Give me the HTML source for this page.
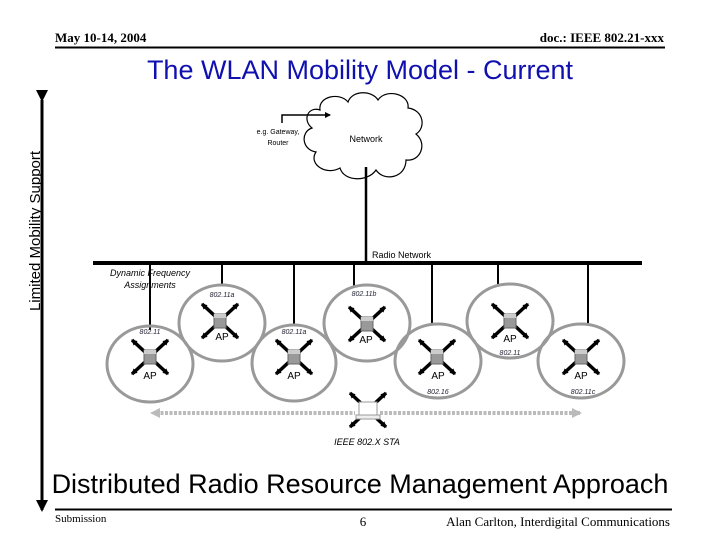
<!DOCTYPE html>
<html><head><meta charset="utf-8"><style>
body{margin:0;width:720px;height:540px;background:#fff;overflow:hidden}
svg text{font-family:"Liberation Sans",sans-serif}
</style></head><body>
<svg width="720" height="540" viewBox="0 0 720 540" xmlns="http://www.w3.org/2000/svg">
<defs>
<marker id="ah" markerWidth="6" markerHeight="6" refX="5" refY="3" orient="auto" markerUnits="userSpaceOnUse"><path d="M0,0L6,3L0,6z" fill="#000"/></marker>
<marker id="big" markerWidth="12" markerHeight="12" refX="10" refY="6" orient="auto" markerUnits="userSpaceOnUse"><path d="M0,0L12,6L0,12z" fill="#000"/></marker>
<marker id="ga" markerWidth="10" markerHeight="10" refX="8" refY="5" orient="auto" markerUnits="userSpaceOnUse"><path d="M0,0L10,5L0,10z" fill="#bbb"/></marker>
<g id="ap">
<g stroke="#000" stroke-width="3.5" marker-end="url(#ah)">
<line x1="-5" y1="-5" x2="-18" y2="-17"/><line x1="5" y1="-5" x2="18" y2="-17"/>
<line x1="-5" y1="5" x2="-18" y2="17"/><line x1="5" y1="5" x2="18" y2="17"/>
</g>
<rect x="-6" y="-7" width="12" height="14" fill="#999" stroke="#666"/>
<rect x="-6" y="-7" width="12" height="4" fill="#ccc"/>
</g>
</defs>

<text x="55" y="42" font-weight="bold" font-size="13" style="font-family:'Liberation Serif',serif">May 10-14, 2004</text>
<text x="664" y="42" text-anchor="end" font-weight="bold" font-size="13" style="font-family:'Liberation Serif',serif">doc.: IEEE 802.21-xxx</text>
<line x1="55" y1="47.5" x2="665" y2="47.5" stroke="#000" stroke-width="2"/>
<text x="360" y="79" text-anchor="middle" font-size="27" fill="#1010b0">The WLAN Mobility Model - Current</text>

<line x1="42" y1="100" x2="42" y2="510" stroke="#000" stroke-width="3" marker-start="url(#big)" marker-end="url(#big)"/>
<text transform="translate(40,231) rotate(-90)" text-anchor="middle" font-size="15">Limited Mobility Support</text>

<path d="M320,110 C318,96 340,92 348,102 C352,90 372,90 378,100 C386,88 410,94 408,108 C424,110 426,128 416,134 C428,144 420,162 406,160 C406,178 384,182 376,170 C368,182 344,182 340,168 C326,176 308,164 316,152 C302,150 300,132 312,128 C302,120 308,106 320,110 Z" fill="#fff" stroke="#000" stroke-width="1.2"/>
<text x="366" y="142" text-anchor="middle" font-size="9">Network</text>
<polyline points="282,123 282,115 330,115" fill="none" stroke="#000" stroke-width="1.5" marker-end="url(#ah)"/>
<text x="278" y="134" text-anchor="middle" font-size="7">e.g. Gateway,</text>
<text x="278" y="145" text-anchor="middle" font-size="7">Router</text>

<line x1="366" y1="167" x2="366" y2="263" stroke="#000" stroke-width="2.5"/>
<line x1="93" y1="263" x2="642" y2="263" stroke="#000" stroke-width="4"/>
<text x="372" y="258" font-size="9">Radio Network</text>
<text x="150" y="276" text-anchor="middle" font-size="9" font-style="italic">Dynamic Frequency</text>
<text x="150" y="288" text-anchor="middle" font-size="9" font-style="italic">Assignments</text>

<g stroke="#000" stroke-width="2">
<line x1="150" y1="263" x2="150" y2="330"/>
<line x1="222" y1="263" x2="222" y2="286"/>
<line x1="294" y1="263" x2="294" y2="326"/>
<line x1="354" y1="263" x2="354" y2="286"/>
<line x1="432" y1="263" x2="432" y2="324"/>
<line x1="498" y1="263" x2="498" y2="284"/>
<line x1="588" y1="263" x2="588" y2="324"/>
</g>

<g fill="none" stroke="#999" stroke-width="3">
<ellipse cx="150" cy="364" rx="43" ry="38"/>
<ellipse cx="222" cy="323" rx="43" ry="38"/>
<ellipse cx="294" cy="363" rx="42" ry="38"/>
<ellipse cx="367" cy="323" rx="43" ry="38"/>
<ellipse cx="438" cy="361" rx="43" ry="37"/>
<ellipse cx="510" cy="321" rx="43" ry="37"/>
<ellipse cx="581" cy="361" rx="43" ry="37"/>
</g>

<use href="#ap" x="150" y="357"/><text x="150" y="379" text-anchor="middle" font-size="10">AP</text>
<use href="#ap" x="220" y="321"/><text x="222" y="340" text-anchor="middle" font-size="10">AP</text>
<use href="#ap" x="294" y="357"/><text x="294" y="379" text-anchor="middle" font-size="10">AP</text>
<use href="#ap" x="367" y="324"/><text x="366" y="343" text-anchor="middle" font-size="10">AP</text>
<use href="#ap" x="437" y="357"/><text x="438" y="379" text-anchor="middle" font-size="10">AP</text>
<use href="#ap" x="510" y="321"/><text x="510" y="342" text-anchor="middle" font-size="10">AP</text>
<use href="#ap" x="581" y="357"/><text x="581" y="379" text-anchor="middle" font-size="10">AP</text>

<g font-size="7" font-style="italic" fill="#223" text-anchor="middle">
<text x="150" y="334">802.11</text>
<text x="222" y="297">802.11a</text>
<text x="294" y="334">802.11a</text>
<text x="364" y="296">802.11b</text>
<text x="510" y="355">802.11</text>
<text x="438" y="394">802.16</text>
<text x="583" y="394">802.11c</text>
</g>

<line x1="156" y1="413" x2="355" y2="413" stroke="#bbb" stroke-width="4" stroke-dasharray="3,1.5"/>
<line x1="380" y1="413" x2="580" y2="413" stroke="#bbb" stroke-width="4" stroke-dasharray="3,1.5" marker-end="url(#ga)"/>
<path d="M160,408 L150,413 L160,418 Z" fill="#bbb"/>
<use href="#ap" x="368" y="410"/>
<rect x="359" y="402" width="18" height="13" fill="#fff" stroke="#999"/>
<rect x="356" y="415" width="24" height="4" fill="#eee" stroke="#999"/>
<text x="367" y="445" text-anchor="middle" font-size="9" font-style="italic">IEEE 802.X STA</text>

<text x="360" y="493" text-anchor="middle" font-size="27">Distributed Radio Resource Management Approach</text>
<line x1="55" y1="509.5" x2="672" y2="509.5" stroke="#000" stroke-width="2"/>
<text x="55" y="522" font-size="11" style="font-family:'Liberation Serif',serif">Submission</text>
<text x="363" y="526" text-anchor="middle" font-size="13" style="font-family:'Liberation Serif',serif">6</text>
<text x="670" y="526" text-anchor="end" font-size="13" style="font-family:'Liberation Serif',serif">Alan Carlton, Interdigital Communications</text>
</svg>
</body></html>
